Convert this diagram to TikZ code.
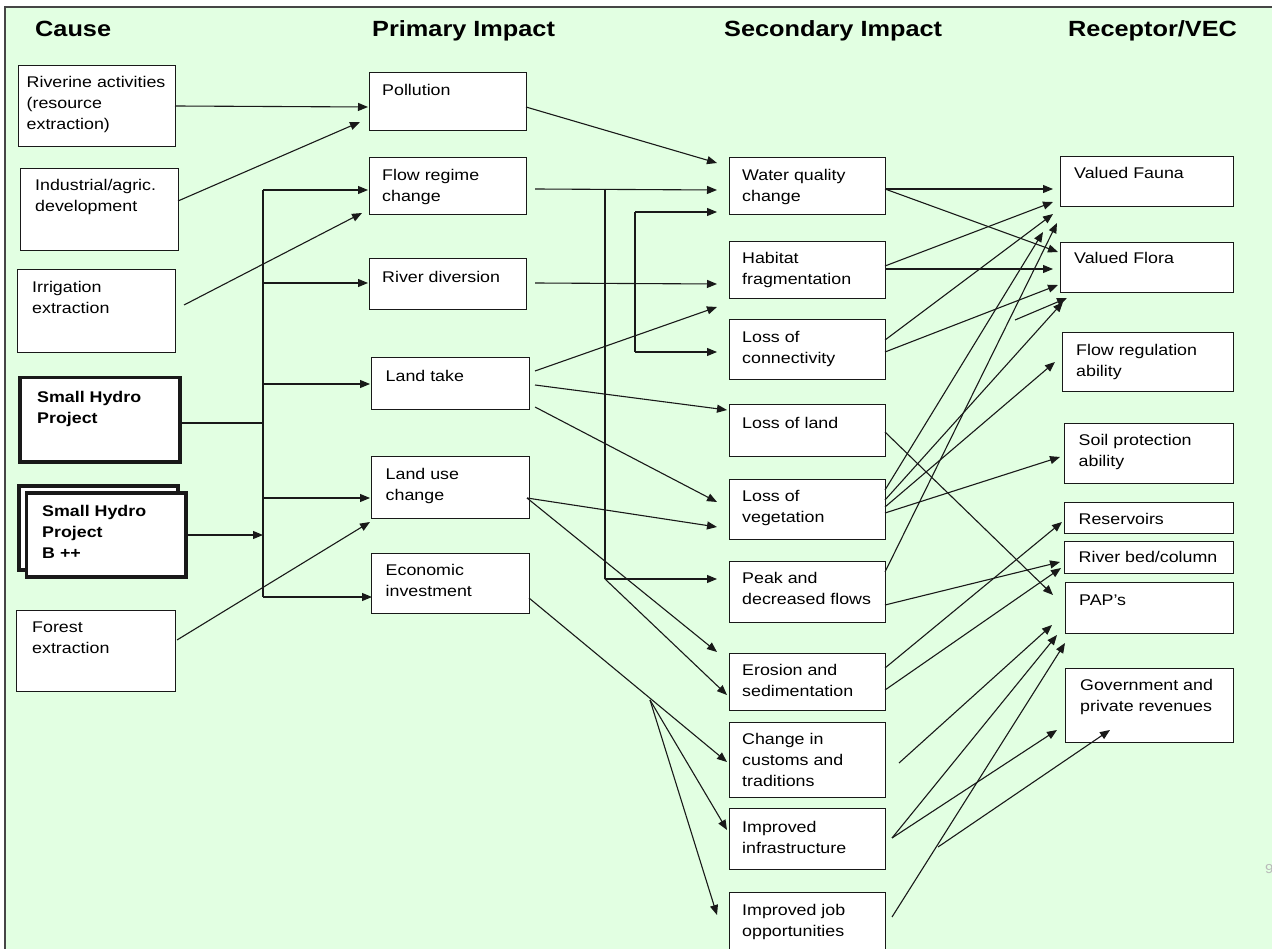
\documentclass[tikz,border=0pt]{standalone}
\usepackage{fontspec}
\setmainfont{Liberation Sans}[FakeStretch=1.15]
\usetikzlibrary{arrows.meta}
\definecolor{bgcol}{RGB}{226,255,226}
\definecolor{framecol}{RGB}{70,70,70}
\definecolor{lncol}{RGB}{25,25,25}
\newcommand\bx[5]{\node[box, minimum width={#4-#2}, minimum height={#5-#3}] (#1) at (#2,#3) {};}
\newcommand\tbx[5]{\node[thickbox, minimum width={#4-#2}, minimum height={#5-#3}] (#1) at (#2,#3) {};}
\newcommand\ml[1]{\begin{tabular}[t]{@{}l@{}}#1\end{tabular}}
\begin{document}
\begin{tikzpicture}[x=1pt,y=-1pt,
  box/.style={draw=lncol, line width=1.2pt, fill=white, inner sep=0pt, anchor=north west},
  thickbox/.style={box, line width=3.5pt},
  txt/.style={anchor=base west, inner sep=0pt, font=\fontsize{15.5}{21}\selectfont},
  btxt/.style={txt, font=\fontsize{15.5}{21}\selectfont\bfseries},
  hdr/.style={anchor=base west, inner sep=0pt, font=\fontsize{22}{26}\selectfont\bfseries},
  arr/.style={draw=lncol, line width=1.1pt, -{Triangle[length=10pt,width=8pt]}},
  plain/.style={draw=lncol, line width=1.1pt}
]
\useasboundingbox (0,0) rectangle (1272,949);
\fill[white] (0,0) rectangle (1272,949);
\fill[bgcol] (5,7) rectangle (1272,949);
\draw[framecol, line width=2pt] (5,949) -- (5,7) -- (1272,7);

% headers
\node[hdr] (h1) at (35,37) {Cause};
\node[hdr] (h2) at (372,37) {Primary Impact};
\node[hdr] (h3) at (724,37) {Secondary Impact};
\node[hdr] (h4) at (1068,37) {Receptor/VEC};

% cause column
\bx{riv}{18}{65}{175}{146}
\node[txt] (riv-t) at (26.5,87.5) {\ml{Riverine activities\\(resource\\extraction)}};
\bx{ind}{20}{168}{178}{250}
\node[txt] (ind-t) at (35,190.5) {\ml{Industrial/agric.\\development}};
\bx{irr}{17}{269}{175}{352}
\node[txt] (irr-t) at (32,292.5) {\ml{Irrigation\\extraction}};
\tbx{shp}{18}{376}{178}{460}
\node[btxt] (shp-t) at (37,402.5) {\ml{Small Hydro\\Project}};
\tbx{shpbb}{17}{484}{176}{568}
\tbx{shpb}{24.5}{491}{184}{575}
\node[btxt] (shpb-t) at (42,516.5) {\ml{Small Hydro\\Project\\B ++}};
\bx{for}{16}{610}{175}{691}
\node[txt] (for-t) at (32,632.5) {\ml{Forest\\extraction}};

% primary column
\bx{pol}{369}{72}{526}{130}
\node[txt] (pol-t) at (382,95.5) {Pollution};
\bx{flow}{369}{157}{526}{214}
\node[txt] (flow-t) at (382,180.5) {\ml{Flow regime\\change}};
\bx{div}{369}{258}{526}{309}
\node[txt] (div-t) at (382,282.5) {River diversion};
\bx{land}{371}{357}{529}{409}
\node[txt] (land-t) at (385.5,381.5) {Land take};
\bx{luc}{371}{456}{529}{518}
\node[txt] (luc-t) at (385.5,479.5) {\ml{Land use\\change}};
\bx{eco}{371}{553}{529}{613}
\node[txt] (eco-t) at (385.5,575.5) {\ml{Economic\\investment}};

% secondary column
\bx{wq}{729}{157}{885}{214}
\node[txt] (wq-t) at (742,180.5) {\ml{Water quality\\change}};
\bx{hab}{729}{241}{885}{298}
\node[txt] (hab-t) at (742,263.5) {\ml{Habitat\\fragmentation}};
\bx{con}{729}{319}{885}{379}
\node[txt] (con-t) at (742,342.5) {\ml{Loss of\\connectivity}};
\bx{lol}{729}{404}{885}{456}
\node[txt] (lol-t) at (742,428.5) {Loss of land};
\bx{veg}{729}{479}{885}{539}
\node[txt] (veg-t) at (742,501.5) {\ml{Loss of\\vegetation}};
\bx{peak}{729}{561}{885}{622}
\node[txt] (peak-t) at (742,583.5) {\ml{Peak and\\decreased flows}};
\bx{ero}{729}{653}{885}{710}
\node[txt] (ero-t) at (742,675.5) {\ml{Erosion and\\sedimentation}};
\bx{cus}{729}{722}{885}{797}
\node[txt] (cus-t) at (742,744.5) {\ml{Change in\\customs and\\traditions}};
\bx{inf}{729}{808}{885}{869}
\node[txt] (inf-t) at (742,832.5) {\ml{Improved\\infrastructure}};
\bx{job}{729}{892}{885}{956}
\node[txt] (job-t) at (742,915.5) {\ml{Improved job\\opportunities}};

% receptor column
\bx{fauna}{1060}{156}{1233}{206}
\node[txt] (fauna-t) at (1074,178.5) {Valued Fauna};
\bx{flora}{1060}{242}{1233}{292}
\node[txt] (flora-t) at (1074,263.5) {Valued Flora};
\bx{freg}{1062}{332}{1233}{391}
\node[txt] (freg-t) at (1076,355.5) {\ml{Flow regulation\\ability}};
\bx{soil}{1064}{423}{1233}{483}
\node[txt] (soil-t) at (1078.5,445.5) {\ml{Soil protection\\ability}};
\bx{res}{1064}{502}{1233}{533}
\node[txt] (res-t) at (1078.5,524.5) {Reservoirs};
\bx{rbed}{1064}{541}{1233}{573}
\node[txt] (rbed-t) at (1078.5,562.5) {River bed/column};
\bx{pap}{1065}{582}{1233}{633}
\node[txt] (pap-t) at (1079,605.5) {PAP's};
\bx{gov}{1065}{668}{1233}{742}
\node[txt] (gov-t) at (1080,690.5) {\ml{Government and\\private revenues}};

\node[anchor=base west, inner sep=0pt, text=gray!55, font=\fontsize{13}{15}\selectfont] (pg) at (1265,873) {9};

% ---- connector points
\coordinate (riv-o) at (175,106);  \coordinate (pol-i1) at (368,107);
\coordinate (ind-o) at (178,201);  \coordinate (pol-i2) at (360,122);
\coordinate (irr-o) at (184,305);  \coordinate (flow-i2) at (362,213);
\coordinate (shp-o) at (179,423);  \coordinate (bus-s) at (263,423);
\coordinate (shpb-o) at (185,535); \coordinate (bus-b) at (263,535);
\coordinate (for-o) at (177,640);  \coordinate (luc-i2) at (370,522);
\coordinate (bus-t) at (263,190);  \coordinate (bus-e) at (263,597);
\coordinate (bus-2) at (263,283);  \coordinate (bus-3) at (263,384);
\coordinate (bus-4) at (263,498);
\coordinate (flow-i1) at (368,190); \coordinate (div-i) at (368,283);
\coordinate (land-i) at (370,384); \coordinate (luc-i1) at (370,498);
\coordinate (eco-i) at (372,597);

\draw[arr] (riv-o) -- (pol-i1);
\draw[arr] (ind-o) -- (pol-i2);
\draw[arr] (irr-o) -- (flow-i2);
\draw[plain] (shp-o) -- (bus-s);
\draw[arr] (shpb-o) -- (bus-b);
\draw[arr] (for-o) -- (luc-i2);
\draw[plain] (bus-t) -- (bus-e);
\draw[arr] (bus-t) -- (flow-i1);
\draw[arr] (bus-2) -- (div-i);
\draw[arr] (bus-3) -- (land-i);
\draw[arr] (bus-4) -- (luc-i1);
\draw[arr] (bus-e) -- (eco-i);

% primary -> secondary
\coordinate (pol-o) at (526,107);  \coordinate (wq-i1) at (717,163);
\coordinate (flow-o) at (535,189); \coordinate (fb-t) at (605,189); \coordinate (wq-i2) at (717,190);
\coordinate (fb-b) at (605,579);   \coordinate (peak-i) at (717,579); \coordinate (ero-i2) at (727,695);
\coordinate (div-o) at (535,283);  \coordinate (hab-i) at (717,284);
\coordinate (db-t) at (635,212);   \coordinate (db-b) at (635,352);
\coordinate (wq-i3) at (717,212);  \coordinate (con-i) at (717,352);
\coordinate (land-o1) at (535,371); \coordinate (hab-i2) at (717,307);
\coordinate (land-o2) at (535,385); \coordinate (lol-i) at (727,410);
\coordinate (land-o3) at (535,407); \coordinate (veg-i1) at (717,502);
\coordinate (luc-o) at (527,498);  \coordinate (veg-i2) at (717,527); \coordinate (ero-i1) at (717,652);
\coordinate (eco-o) at (529,598);  \coordinate (eco-br) at (650,700);
\coordinate (cus-i) at (727,762);  \coordinate (inf-i) at (727,830); \coordinate (job-i) at (717,915);

\draw[arr] (pol-o) -- (wq-i1);
\draw[arr] (flow-o) -- (wq-i2);
\draw[plain] (fb-t) -- (fb-b);
\draw[arr] (fb-b) -- (peak-i);
\draw[arr] (fb-b) -- (ero-i2);
\draw[arr] (div-o) -- (hab-i);
\draw[plain] (db-t) -- (db-b);
\draw[arr] (db-t) -- (wq-i3);
\draw[arr] (db-b) -- (con-i);
\draw[arr] (land-o1) -- (hab-i2);
\draw[arr] (land-o2) -- (lol-i);
\draw[arr] (land-o3) -- (veg-i1);
\draw[arr] (luc-o) -- (veg-i2);
\draw[arr] (luc-o) -- (ero-i1);
\draw[arr] (eco-o) -- (cus-i);
\draw[arr] (eco-br) -- (inf-i);
\draw[arr] (eco-br) -- (job-i);

% secondary -> receptor
\coordinate (wq-o) at (885,189);
\coordinate (fa-1) at (1053,189); \coordinate (fl-1) at (1058,252);
\coordinate (hab-o1) at (885,266); \coordinate (hab-o2) at (885,269);
\coordinate (fa-2) at (1053,202); \coordinate (fl-2) at (1053,269);
\coordinate (con-o1) at (885,340); \coordinate (con-o2) at (885,352);
\coordinate (fa-3) at (1053,214); \coordinate (fl-3) at (1058,285);
\coordinate (veg-o1) at (885,490); \coordinate (fa-4) at (1043,232);
\coordinate (veg-o2) at (885,500); \coordinate (fl-4) at (1063,302);
\coordinate (veg-o3) at (885,507); \coordinate (freg-i) at (1055,362);
\coordinate (veg-o4) at (885,513); \coordinate (soil-i) at (1060,457);
\coordinate (peak-o1) at (885,572); \coordinate (fa-5) at (1057,223);
\coordinate (peak-o2) at (885,605); \coordinate (rbed-i1) at (1060,562);
\coordinate (lol-o) at (885,432); \coordinate (pap-i1) at (1053,595);
\coordinate (ero-o1) at (885,668); \coordinate (res-i) at (1062,522);
\coordinate (ero-o2) at (885,690); \coordinate (rbed-i2) at (1061,568);
\coordinate (cus-o) at (899,763); \coordinate (pap-i2) at (1052,625);
\coordinate (inf-o) at (892,838); \coordinate (pap-i3) at (1057,635); \coordinate (gov-i1) at (1057,730);
\coordinate (job-o) at (892,917); \coordinate (pap-i4) at (1065,643);
\coordinate (job-br) at (938,847); \coordinate (gov-i2) at (1110,730);
\coordinate (fr-s) at (1015,320); \coordinate (fl-5) at (1067,298);

\draw[arr] (wq-o) -- (fa-1);
\draw[arr] (wq-o) -- (fl-1);
\draw[arr] (hab-o1) -- (fa-2);
\draw[arr] (hab-o2) -- (fl-2);
\draw[arr] (con-o1) -- (fa-3);
\draw[arr] (con-o2) -- (fl-3);
\draw[arr] (veg-o1) -- (fa-4);
\draw[arr] (veg-o2) -- (fl-4);
\draw[arr] (veg-o3) -- (freg-i);
\draw[arr] (veg-o4) -- (soil-i);
\draw[arr] (peak-o1) -- (fa-5);
\draw[arr] (peak-o2) -- (rbed-i1);
\draw[arr] (lol-o) -- (pap-i1);
\draw[arr] (ero-o1) -- (res-i);
\draw[arr] (ero-o2) -- (rbed-i2);
\draw[arr] (cus-o) -- (pap-i2);
\draw[arr] (inf-o) -- (pap-i3);
\draw[arr] (inf-o) -- (gov-i1);
\draw[arr] (job-o) -- (pap-i4);
\draw[arr] (job-br) -- (gov-i2);
\draw[arr] (fr-s) -- (fl-5);
\end{tikzpicture}
\end{document}
